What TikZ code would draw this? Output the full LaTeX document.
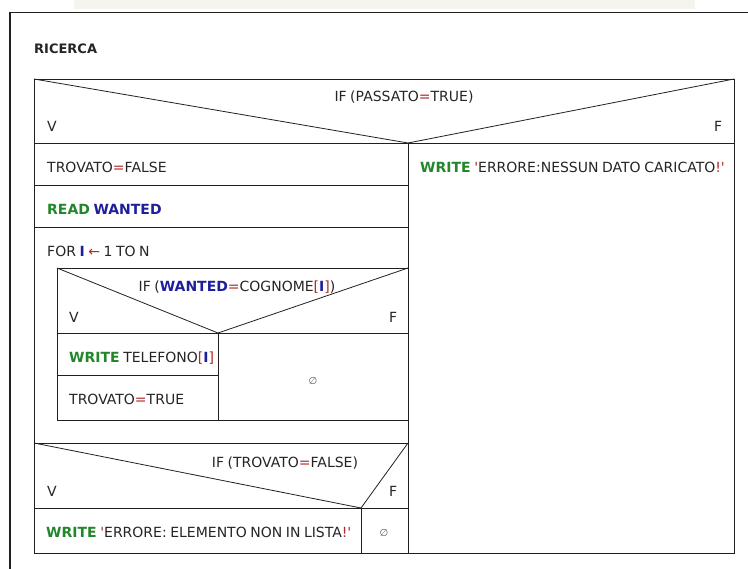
\documentclass[tikz,border=0pt]{standalone}
\usepackage{fontspec}
\setmainfont[WordSpace=0.8]{DejaVu Sans}
\definecolor{kwgreen}{HTML}{23862B}
\definecolor{kwblue}{HTML}{1F1F9C}
\definecolor{kwred}{HTML}{B02828}
\definecolor{beigebg}{HTML}{F5F4EE}
\definecolor{linec}{HTML}{202020}
\definecolor{txtc}{HTML}{252525}
\newcommand\KWg[1]{\textbf{\color{kwgreen}#1}}
\newcommand\KWb[1]{\textbf{\color{kwblue}#1}}
\newcommand\RDc[1]{{\color{kwred}#1}}
\newcommand\SQ{\RDc{\textquotesingle}}
\begin{document}
\begin{tikzpicture}[x=1pt,y=-1pt,
  ln/.style={line width=0.8pt,draw=linec},
  txt/.style={anchor=base west,inner sep=0pt,text=txtc,font=\fontsize{14}{16}\selectfont},
  ctxt/.style={txt,anchor=base},
  empt/.style={inner sep=0pt,text=txtc!75,font=\fontsize{10}{11}\selectfont}]
\useasboundingbox (0,0) rectangle (748,569);
% page decoration
\fill[beigebg] (74,0) rectangle (695,9);
\draw[line width=1.1pt,draw=linec] (10,569) -- (10,12.5) -- (748,12.5);
\node[txt,font=\bfseries\fontsize{13}{15}\selectfont] (title) at (34,54) {RICERCA};
% coordinates
\coordinate (TL) at (34,79);
\coordinate (TR) at (734,79);
\coordinate (BR) at (734,553);
\coordinate (BL) at (34,553);
\coordinate (H1L) at (34,143);
\coordinate (H1M) at (408,143);
\coordinate (H1R) at (734,143);
\coordinate (MB) at (408,553);
% outer box and top IF
\draw[ln] (TL) rectangle (BR);
\draw[ln] (H1L) -- (H1R);
\draw[ln] (TL) -- (H1M) -- (TR);
\draw[ln] (H1M) -- (MB);
% rows left column
\draw[ln] (34,185) -- (408,185);
\draw[ln] (34,227) -- (408,227);
\draw[ln] (34,443) -- (408,443);
\draw[ln] (34,508) -- (408,508);
% inner IF box
\coordinate (ITL) at (57,268);
\coordinate (ITR) at (408,268);
\coordinate (IBR) at (408,420);
\coordinate (IM) at (218,333);
\draw[ln] (ITL) rectangle (IBR);
\draw[ln] (57,333) -- (408,333);
\draw[ln] (ITL) -- (IM) -- (ITR);
\draw[ln] (IM) -- (218,420);
\draw[ln] (57,375) -- (218,375);
% bottom IF
\coordinate (BM) at (361,508);
\draw[ln] (34,443) -- (BM) -- (408,443);
\draw[ln] (BM) -- (361,553);
% texts
\node[ctxt] (if1) at (404,102) {IF (PASSATO\RDc{=}TRUE)};
\node[txt] (v1) at (47,132) {V};
\node[txt] (f1) at (714,132) {F};
\node[txt] (t1) at (47,173) {TROVATO\RDc{=}FALSE};
\node[txt] (t2) at (47,215) {\KWg{READ} \KWb{WANTED}};
\node[txt] (t3) at (47,257) {FOR \KWb{I} \RDc{←} 1 TO N};
\node[txt] (err1) at (420,173) {\KWg{WRITE} \SQ ERRORE:NESSUN DATO CARICATO\RDc{!}\SQ};
\node[ctxt] (if2) at (237,292) {IF (\KWb{WANTED}\RDc{=}COGNOME\RDc{[}\KWb{I}\RDc{]})};
\node[txt] (v2) at (69,323) {V};
\node[txt] (f2) at (389,323) {F};
\node[txt] (t4) at (69,363) {\KWg{WRITE} TELEFONO\RDc{[}\KWb{I}\RDc{]}};
\node[txt] (t5) at (69,405) {TROVATO\RDc{=}TRUE};
\node[empt] (e1) at (313,381) {∅};
\node[ctxt] (if3) at (285,468) {IF (TROVATO\RDc{=}FALSE)};
\node[txt] (v3) at (47,497) {V};
\node[txt] (f3) at (389,497) {F};
\node[txt] (err2) at (46,538) {\KWg{WRITE} \SQ ERRORE: ELEMENTO NON IN LISTA\RDc{!}\SQ};
\node[empt] (e2) at (384,533) {∅};
\end{tikzpicture}
\end{document}
